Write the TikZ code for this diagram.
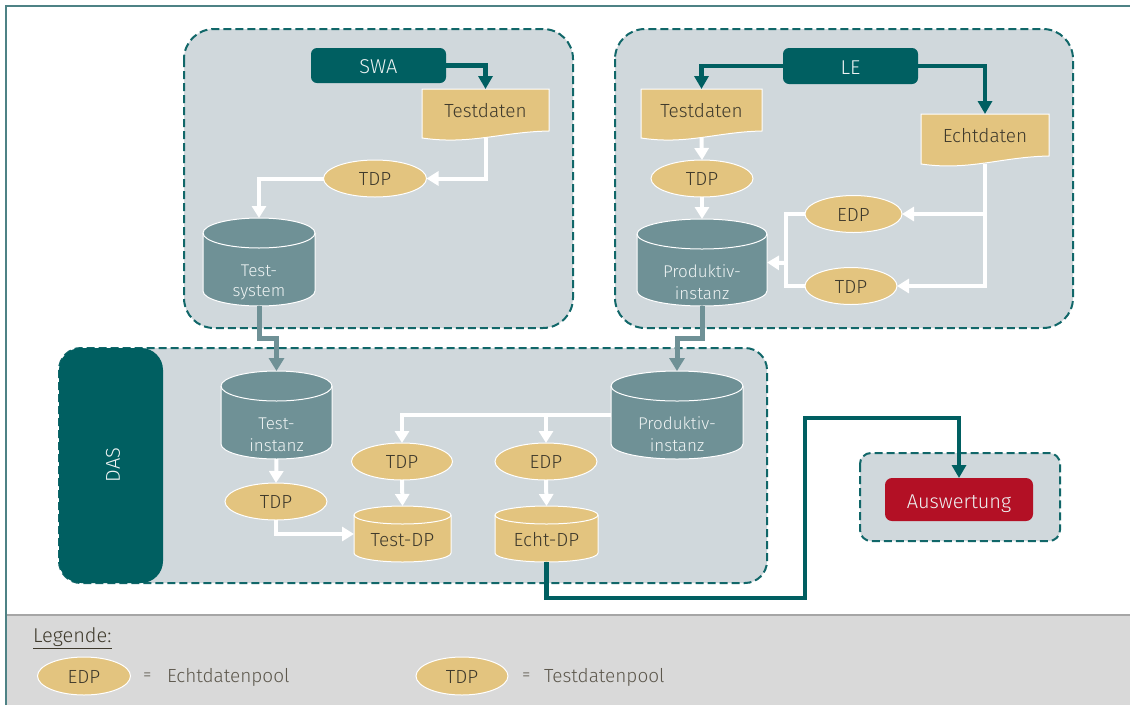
\documentclass[tikz,border=0pt]{standalone}
\usepackage{fontspec}
\setmainfont{Fira Sans}[UprightFont=* Light,BoldFont=*]
\usetikzlibrary{shapes.geometric,arrows.meta,calc}
\definecolor{teal}{HTML}{005F61}
\definecolor{grp}{HTML}{D0D8DC}
\definecolor{cyl}{HTML}{6F9196}
\definecolor{tan}{HTML}{E3C47F}
\definecolor{redbox}{HTML}{B31025}
\definecolor{leg}{HTML}{D9D9D9}
\definecolor{dark}{HTML}{3F3A2C}
\definecolor{pale}{HTML}{EEF3F3}
\definecolor{frameline}{HTML}{4E8285}
\tikzset{
  x=1pt,y=-1pt,
  every node/.style={inner sep=0pt,outer sep=0pt},
  lbl/.style={font=\fontsize{19}{22}\selectfont},
  big/.style={font=\fontsize{20}{23}\selectfont},
  small/.style={font=\fontsize{17}{20}\selectfont},
  group/.style={draw=teal!85!cyl,fill=grp,line width=2pt,dash pattern=on 8pt off 4pt},
  actor/.style={fill=teal,rounded corners=6pt,text=pale,big,text height=16pt,text depth=0pt},
  pool/.style={ellipse,fill=tan,draw=white,line width=1pt,text=dark,lbl,text height=14pt,text depth=0pt},
  box/.style={rectangle},
  wconn/.style={draw=white,line width=4pt,-{Triangle[length=12pt,width=14pt]}},
  wline/.style={draw=white,line width=4pt},
  tconn/.style={draw=teal,line width=4.5pt,-{Triangle[length=13pt,width=14pt]}},
  gconn/.style={draw=cyl,line width=5pt,-{Triangle[length=13pt,width=15pt]}},
}
% name, x1, x2, y1, y2, ry, fill
\newcommand{\cylshape}[7]{
  \path[fill=#7,draw=white,line width=1pt]
    (#2,#4+#6) arc[start angle=180,end angle=360,x radius={(#3-#2)/2},y radius=#6]
    -- (#3,#5-#6) arc[start angle=0,end angle=180,x radius={(#3-#2)/2},y radius=#6] -- cycle;
  \path[draw=white,line width=1pt]
    (#2,#4+#6) arc[start angle=180,end angle=0,x radius={(#3-#2)/2},y radius=#6];
  \node[box,minimum width=#3pt-#2pt,minimum height=#5pt-#4pt] (#1) at ({(#2+#3)/2},{(#4+#5)/2}) {};
}
% name, x1, x2, y1, yright, yleft, text
\newcommand{\docshape}[7]{
  \path[fill=tan,draw=white,line width=1pt]
    (#2,#4) -- (#3,#4) -- (#3,#5)
    .. controls ({#2+0.62*(#3-#2)},#5+1) and ({#2+0.38*(#3-#2)},#6+7) .. (#2,#6) -- cycle;
  \node[box,minimum width=#3pt-#2pt,minimum height=#6pt-#4pt,text=dark,lbl,text height=7pt,text depth=0pt] (#1) at ({(#2+#3)/2},{(#4+#6)/2}) {#7};
}
\begin{document}
\begin{tikzpicture}
\useasboundingbox (0,0) rectangle (1130,705);
\fill[white] (0,0) rectangle (1130,705);
% frame
\draw[frameline,line width=2pt] (5.5,705) -- (5.5,5.5) -- (1130,5.5);
% legend
\fill[leg] (7,615) rectangle (1130,705);
\draw[black!35,line width=2pt] (7,615) -- (1130,615);
% groups
\draw[group,rounded corners=30pt] (184,29) rectangle (573,328);
\draw[group,rounded corners=30pt] (615,29) rectangle (1073,328);
\draw[group,rounded corners=22pt] (59,348) rectangle (767,583);
\draw[group,rounded corners=11pt] (860,453) rectangle (1060,541);
\fill[teal,rounded corners=22pt] (59,348) rectangle (163,583);
\node[text=pale,big,rotate=90] (das) at (113,465) {DAS};
% SWA
\node[actor,minimum width=135pt,minimum height=35pt] (swa) at (378.5,65.5) {SWA};
\docshape{tda}{422}{549}{89}{131}{138}{Testdaten}
\node[pool,minimum width=103pt,minimum height=37pt] (tdpa) at (375,178.5) {TDP};
\cylshape{tsys}{203}{315}{218}{306}{15}{cyl}
\node[text=pale,small] (tsysa) at (259,271) {Test-};
\node[text=pale,small] (tsysb) at (259,293) {system};
% LE
\node[actor,minimum width=135pt,minimum height=36pt] (le) at (850.5,66) {LE};
\docshape{tdb}{641}{762}{89}{131}{138}{Testdaten}
\docshape{echt}{921}{1049}{114}{156}{164}{Echtdaten}
\node[pool,minimum width=102pt,minimum height=37pt] (tdpb) at (702,178.5) {TDP};
\node[pool,minimum width=97pt,minimum height=37pt] (edpb) at (853.5,214) {EDP};
\node[pool,minimum width=92pt,minimum height=37pt] (tdpc) at (851,286) {TDP};
\cylshape{prod}{637}{767}{219}{306}{15}{cyl}
\node[text=pale,small] (proda) at (702,271) {Produktiv-};
\node[text=pale,small] (prodb) at (702,293) {instanz};
% DAS
\cylshape{tinst}{221}{332}{371}{459}{15}{cyl}
\node[text=pale,small] (tinsta) at (276.5,424) {Test-};
\node[text=pale,small] (tinstb) at (276.5,445) {instanz};
\cylshape{prodd}{611}{743}{371}{459}{15}{cyl}
\node[text=pale,small] (prodda) at (677,423) {Produktiv-};
\node[text=pale,small] (proddb) at (677,445) {instanz};
\node[pool,minimum width=102pt,minimum height=37pt] (tdpd) at (276,501.5) {TDP};
\node[pool,minimum width=101pt,minimum height=37pt] (tdpe) at (402,461.5) {TDP};
\node[pool,minimum width=102pt,minimum height=37pt] (edpe) at (546,461.5) {EDP};
\cylshape{testdp}{354}{451}{506}{562}{9}{tan}
\node[text=dark,lbl] (testdpl) at (402.5,540) {Test-DP};
\cylshape{echtdp}{495}{598}{506}{562}{9}{tan}
\node[text=dark,lbl] (echtdpl) at (546.5,540) {Echt-DP};
% Auswertung
\node[fill=redbox,rounded corners=7pt,text=pale,big,minimum width=148pt,minimum height=43pt,text height=17pt,text depth=0pt] (ausw) at (959,499.5) {Auswertung};
% bend points
\coordinate (ca) at (270,338);
\coordinate (cb) at (690,338);
\coordinate (cc) at (805,598);
\coordinate (cd) at (805,418);
\coordinate (ce) at (786,214);
\coordinate (cf) at (786,263);
% connectors
\draw[tconn] (swa.east) -| (tda.north);
\draw[wconn] (tda.south) |- (tdpa.east);
\draw[wconn] (tdpa.west) -| (tsys.north);
\draw[gconn] (tsys.south) |- (ca) -| (tinst.north);
\draw[tconn] (le.west) -| (tdb.north);
\draw[tconn] (le.east) -| (echt.north);
\draw[wconn] (tdb.south) -- (tdpb.north);
\draw[wconn] (tdpb.south) -- (prod.north);
\draw[wconn] (echt.south) |- (tdpc.east);
\draw[wconn] (echt.south |- edpb.east) -- (edpb.east);
\draw[wline] (edpb.west) -- (ce) |- (tdpc.west);
\draw[wconn] (cf) -- (prod.east);
\draw[gconn] (prod.south) |- (cb) -| (prodd.north);
\draw[wconn] (tinst.south) -- (tdpd.north);
\draw[wconn] (tdpd.south) |- (testdp.west);
\draw[wconn] (prodd.west) -| (tdpe.north);
\draw[wconn] (edpe.north |- prodd.west) -- (edpe.north);
\draw[wconn] (tdpe.south) -- (testdp.north);
\draw[wconn] (edpe.south) -- (echtdp.north);
\draw[tconn] (echtdp.south) |- (cc) -- (cd) -| (ausw.north);
% legend content
\node[text=dark,big,anchor=west] (legt) at (33,638) {\underline{Legende:}};
\node[pool,minimum width=93pt,minimum height=38pt] (lege) at (84,676) {EDP};
\node[text=dark!85,small,anchor=west] (legeq) at (143,677) {=};
\node[text=dark!85,lbl,anchor=west] (legel) at (167,677) {Echtdatenpool};
\node[pool,minimum width=92pt,minimum height=38pt] (legt2) at (462,676) {TDP};
\node[text=dark!85,small,anchor=west] (legtq) at (522,677) {=};
\node[text=dark!85,lbl,anchor=west] (legtl) at (544,677) {Testdatenpool};
\end{tikzpicture}
\end{document}
